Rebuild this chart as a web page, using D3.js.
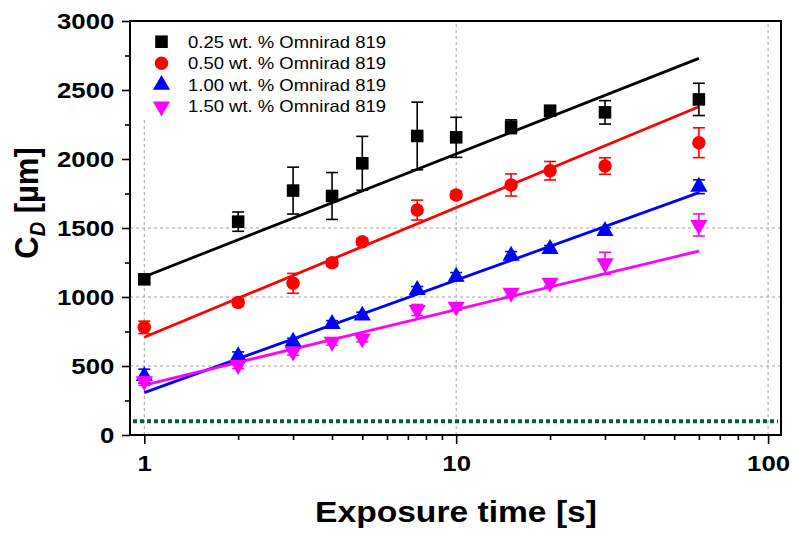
<!DOCTYPE html>
<html><head><meta charset="utf-8">
<script src="https://cdn.jsdelivr.net/npm/d3@7"></script>
<style>
body{margin:0;background:#fff}
svg{display:block}
text{font-family:"Liberation Sans",Arial,Helvetica,sans-serif}
</style>
</head><body>
<svg id="c" width="793" height="534"></svg>
<script>
// ---- data ----
const times = [1, 2, 3, 4, 5, 7.5, 10, 15, 20, 30, 60];
const seriesNames = ["0.25 wt. % Omnirad 819", "0.50 wt. % Omnirad 819", "1.00 wt. % Omnirad 819", "1.50 wt. % Omnirad 819"];
const seriesColors = ["#000000", "#ff0000", "#0000ff", "#ff00ff"];
const seriesSymbols = ["square", "circle", "triangle", "triangleDown"];
const v025 = [1128, 1546, 1771, 1732, 1969, 2167, 2157, 2234, 2350, 2338, 2432];
const e025 = [25, 70, 170, 170, 195, 245, 145, 50, 25, 85, 117];
const v050 = [780, 961, 1099, 1249, 1401, 1630, 1739, 1812, 1915, 1949, 2118];
const e050 = [45, 25, 72, 25, 25, 72, 25, 80, 67, 60, 108];
const v100 = [427, 572, 676, 804, 865, 1051, 1147, 1299, 1348, 1478, 1799];
const e100 = [50, 30, 25, 25, 25, 25, 30, 30, 25, 25, 50];
const v150 = [390, 507, 604, 676, 700, 906, 930, 1031, 1104, 1244, 1522];
const e150 = [30, 25, 25, 25, 25, 40, 25, 25, 25, 80, 80];
// linear fits (vs log t), value at first and last exposure time
const fitTimes = [1, 60];
const fitStart = [1147, 708, 307, 362];
const fitEnd = [2729, 2379, 1756, 1333];
const thresholdValue = 100;
const xMajorTicks = [1, 10, 100];
const xMinorTicks = [2, 3, 4, 5, 6, 7, 8, 9, 20, 30, 40, 50, 60, 70, 80, 90];
const yMajorTicks = [0, 500, 1000, 1500, 2000, 2500, 3000];
const yMinorTicks = [250, 750, 1250, 1750, 2250, 2750];
const yGridLines = [500, 1000, 1500];
const xGridLines = [1, 10, 100];

const values = [v025, v050, v100, v150];
const errors = [e025, e050, e100, e150];

// ---- layout ----
const svg = d3.select("#c");
const L = 130, R = 781, T = 21, B = 435;
const SX = 1.12;
const x = d3.scaleLog().domain([0.9, 110]).range([L, R]);
const y = d3.scaleLinear().domain([0, 3000]).range([B, T]);

// grid
const grid = svg.append("g").attr("stroke", "#a0a0a0").attr("stroke-width", 1).attr("stroke-dasharray", "3,3");
grid.selectAll("line.v").data(xGridLines).join("line").attr("class", "v")
  .attr("x1", d => x(d)).attr("x2", d => x(d)).attr("y1", B).attr("y2", T);
grid.selectAll("line.h").data(yGridLines).join("line").attr("class", "h")
  .attr("x1", L).attr("x2", R).attr("y1", d => y(d)).attr("y2", d => y(d));

// legend background
svg.append("rect").attr("x", 136).attr("y", T + 1).attr("width", 290).attr("height", 97).attr("fill", "#fff");

// threshold line
svg.append("line").attr("x1", L + 3).attr("x2", R - 3).attr("y1", y(thresholdValue)).attr("y2", y(thresholdValue))
  .attr("stroke", "#00622f").attr("stroke-width", 4).attr("stroke-dasharray", "4,3");

// fit lines
const line = d3.line().x(d => x(d[0])).y(d => y(d[1]));
seriesNames.forEach((n, i) => {
  svg.append("path").attr("d", line([[fitTimes[0], fitStart[i]], [fitTimes[1], fitEnd[i]]]))
    .attr("stroke", seriesColors[i]).attr("stroke-width", 2.8).attr("fill", "none");
});

function symbolPath(kind) {
  if (kind === "square") return d3.symbol(d3.symbolSquare, 158)();
  if (kind === "circle") return d3.symbol(d3.symbolCircle, 142)();
  return d3.symbol(d3.symbolTriangle, 128)();
}
function drawSymbol(g, kind, cx, cy, color) {
  let tr = `translate(${cx},${cy})`;
  if (kind === "triangleDown") tr += " rotate(180)";
  g.append("path").attr("d", symbolPath(kind)).attr("transform", tr).attr("fill", color);
}

// error bars + markers
seriesNames.forEach((n, i) => {
  const g = svg.append("g");
  const c = seriesColors[i];
  times.forEach((t, j) => {
    const cx = x(t), v = values[i][j], e = errors[i][j];
    const y1 = y(v - e), y2 = y(v + e);
    g.append("line").attr("x1", cx).attr("x2", cx).attr("y1", y1).attr("y2", y2).attr("stroke", c).attr("stroke-width", 1.6);
    g.append("line").attr("x1", cx - 6).attr("x2", cx + 6).attr("y1", y1).attr("y2", y1).attr("stroke", c).attr("stroke-width", 1.6);
    g.append("line").attr("x1", cx - 6).attr("x2", cx + 6).attr("y1", y2).attr("y2", y2).attr("stroke", c).attr("stroke-width", 1.6);
  });
  times.forEach((t, j) => drawSymbol(g, seriesSymbols[i], x(t), y(values[i][j]), c));
});

// legend
const lg = svg.append("g");
seriesNames.forEach((n, i) => {
  const cy = 41.7 + i * 21.6;
  drawSymbol(lg, seriesSymbols[i], 161.5, cy, seriesColors[i]);
  lg.append("text").attr("transform", `translate(188,${cy + 5.9}) scale(${SX},1)`)
    .attr("font-size", 16.5).attr("fill", "#000").text(n);
});

// axes
function styleAxis(g) {
  g.select(".domain").remove();
  g.selectAll(".tick line").attr("stroke", "#000").attr("stroke-width", 1.6);
}
const yAx = svg.append("g").attr("transform", `translate(${L},0)`)
  .call(d3.axisLeft(y).tickValues(yMajorTicks).tickSize(8).tickPadding(6).tickFormat(d3.format("d")));
styleAxis(yAx);
yAx.selectAll(".tick text").attr("font-size", 23).attr("font-weight", "bold").attr("fill", "#000")
  .attr("font-family", "Liberation Sans, Arial, sans-serif").attr("transform", `scale(${SX},1)`);
const yMin = svg.append("g").attr("transform", `translate(${L},0)`)
  .call(d3.axisLeft(y).tickValues(yMinorTicks).tickSize(5).tickFormat(""));
styleAxis(yMin);

const xAx = svg.append("g").attr("transform", `translate(0,${B})`)
  .call(d3.axisBottom(x).tickValues(xMajorTicks).tickSize(9).tickPadding(11).tickFormat(d3.format("d")));
styleAxis(xAx);
xAx.selectAll(".tick text").attr("font-size", 23).attr("font-weight", "bold").attr("fill", "#000")
  .attr("font-family", "Liberation Sans, Arial, sans-serif").attr("transform", `scale(${SX},1)`);
const xMin = svg.append("g").attr("transform", `translate(0,${B})`)
  .call(d3.axisBottom(x).tickValues(xMinorTicks).tickSize(5).tickFormat(""));
styleAxis(xMin);

// frame
svg.append("rect").attr("x", L).attr("y", T).attr("width", R - L).attr("height", B - T)
  .attr("fill", "none").attr("stroke", "#000").attr("stroke-width", 2);

// axis titles
svg.append("text").attr("transform", `translate(456,522) scale(${SX},1)`).attr("text-anchor", "middle")
  .attr("font-size", 30).attr("font-weight", "bold").attr("fill", "#000").text("Exposure time [s]");
const yt = svg.append("text").attr("transform", `translate(38,203) scale(1.06,1) rotate(-90)`).attr("text-anchor", "middle")
  .attr("font-size", 31).attr("font-weight", "bold").attr("fill", "#000");
yt.append("tspan").text("C");
yt.append("tspan").attr("font-style", "italic").attr("font-size", 20).attr("dy", 7).text("D");
yt.append("tspan").attr("dy", -7).text(" [µm]");
</script>
</body></html>
